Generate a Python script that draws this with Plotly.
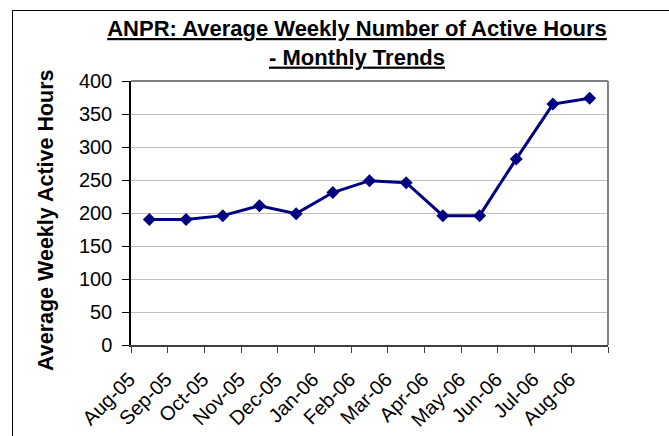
import plotly.graph_objects as go

# Monthly averages of weekly active hours
months = ["Aug-05", "Sep-05", "Oct-05", "Nov-05", "Dec-05", "Jan-06", "Feb-06",
          "Mar-06", "Apr-06", "May-06", "Jun-06", "Jul-06", "Aug-06"]
active_hours = [190, 190, 196, 211, 199, 231, 249, 246, 196, 196, 282, 365, 374]
y_ticks = [0, 50, 100, 150, 200, 250, 300, 350, 400]

W, H = 669, 436
L, R, T, B = 131, 61, 81, 91
pw, ph = W - L - R, H - T - B

fig = go.Figure()
fig.add_trace(go.Scatter(
    x=months, y=active_hours, mode="lines+markers",
    line=dict(color="#000080", width=3),
    marker=dict(symbol="diamond", size=10, color="#000080"),
    showlegend=False,
))

font = "Liberation Sans, Arial, sans-serif"

fig.update_layout(
    width=W, height=H,
    margin=dict(l=L, r=R, t=T, b=B),
    paper_bgcolor="white", plot_bgcolor="white",
    font=dict(family=font, color="black", size=20),
    title=dict(
        text="<b><u>ANPR: Average Weekly Number of Active Hours</u></b><br>"
             "<b><u>- Monthly Trends</u></b>",
        x=357 / W, xanchor="center", xref="container",
        y=1 - 36 / H, yanchor="top", yref="container",
        font=dict(family=font, size=22, color="black"),
    ),
    xaxis=dict(
        type="category", tickangle=-45, tickson="boundaries",
        ticks="outside", ticklen=6, tickcolor="#404040",
        showline=True, linecolor="#404040", linewidth=1.5,
        showgrid=False, mirror=False, range=[-0.5, len(months) - 0.5],
        tickfont=dict(size=20), ticklabelstandoff=13, ticklabelshift=-20,
        automargin=False,
    ),
    yaxis=dict(
        range=[0, 400], tickvals=y_ticks, ticks="outside", ticklen=7,
        tickcolor="black", showline=True, linecolor="black", linewidth=1.5,
        showgrid=True, gridcolor="#c0c0c0", gridwidth=1, zeroline=False,
        tickfont=dict(size=20), ticklabelstandoff=6, automargin=False,
    ),
    annotations=[
        # y-axis title
        dict(text="<b>Average Weekly Active Hours</b>", textangle=-90,
             xref="paper", yref="paper",
             x=(46 - L) / pw, y=(ph + T - 220) / ph,
             xanchor="center", yanchor="middle", showarrow=False,
             font=dict(family=font, size=21.5, color="black")),
    ],
    shapes=[
        # plot-area border on top and right
        dict(type="line", xref="paper", yref="paper", x0=0, x1=1, y0=1, y1=1,
             line=dict(color="#808080", width=2)),
        dict(type="line", xref="paper", yref="paper", x0=1, x1=1, y0=0, y1=1,
             line=dict(color="#808080", width=2)),
        # chart frame
        dict(type="rect", xref="paper", yref="paper",
             x0=(12.5 - L) / pw, x1=(W + 20 - L) / pw,
             y0=(ph + T - (H + 20)) / ph, y1=(ph + T - 10.5) / ph,
             line=dict(color="black", width=1), layer="below"),
    ],
)

fig.write_html("out.html")
